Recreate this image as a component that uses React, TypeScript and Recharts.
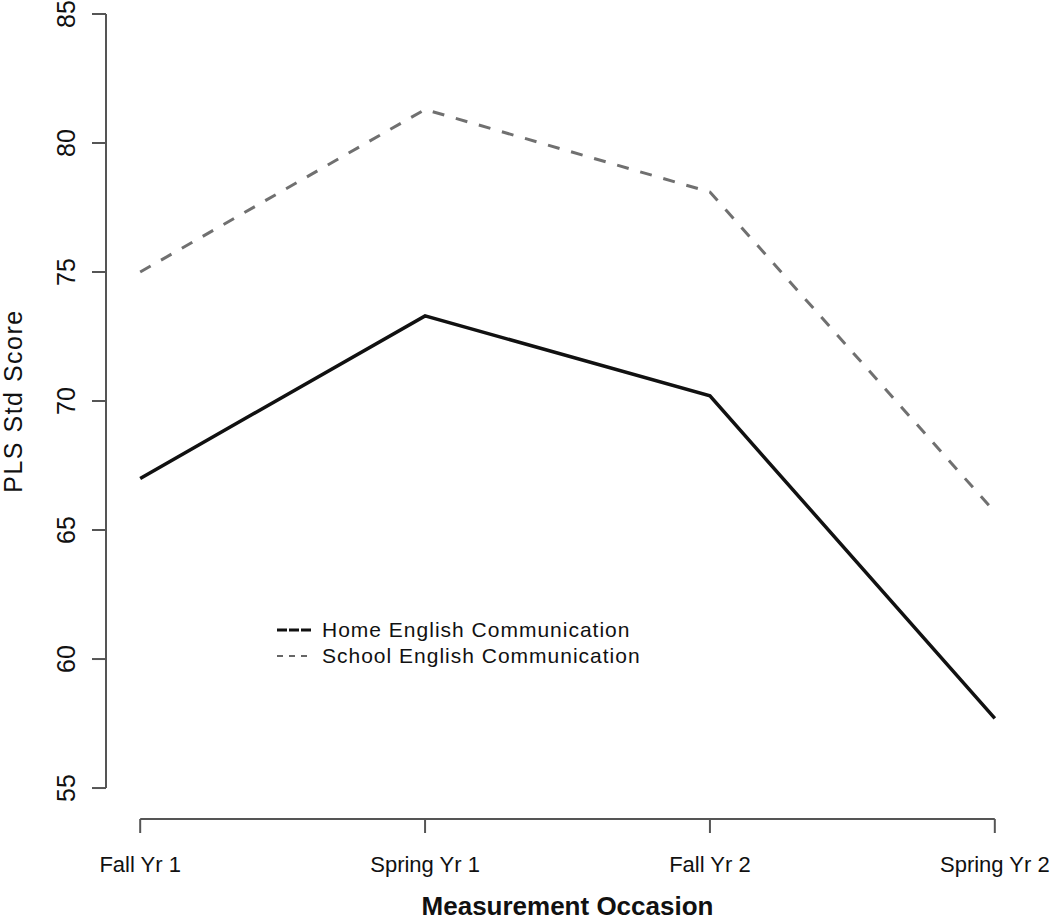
import React from 'react';
import { LineChart, Line, XAxis, YAxis, Legend, ReferenceLine } from 'recharts';

const occasions = ['Fall Yr 1', 'Spring Yr 1', 'Fall Yr 2', 'Spring Yr 2'];
const homeEnglish = [67.0, 73.3, 70.2, 57.7];
const schoolEnglish = [75.0, 81.3, 78.1, 65.7];
const yTicks = [55, 60, 65, 70, 75, 80, 85];
const xTicks = [0, 1, 2, 3];

const data = occasions.map((o, i) => ({
  idx: i,
  occasion: o,
  home: homeEnglish[i],
  school: schoolEnglish[i],
}));

const FONT = '"Liberation Sans", Arial, Helvetica, sans-serif';
const AXIS = '#555';
const TEXT = '#111';

// R pads the data range by 4% on each side
const X_DOMAIN: [number, number] = [-0.12, 3.12];
const Y_DOMAIN: [number, number] = [53.8, 85];

// legend samples look a bit different from the plotted lines
const LEGEND_SAMPLE: Record<string, { dash: string; width: number; color: string }> = {
  home: { dash: '10 2', width: 3, color: '#111' },
  school: { dash: '6 6', width: 2, color: '#666' },
};

const XTick = ({ x, y, payload }: any) => (
  <text x={x} y={y + 37} textAnchor="middle" fontSize={22} fill={TEXT} fontFamily={FONT}>
    {occasions[payload.value]}
  </text>
);

const YTick = ({ x, y, payload }: any) => (
  <text
    x={x - 15}
    y={y}
    transform={`rotate(-90, ${x - 15}, ${y})`}
    textAnchor="middle"
    fontSize={25}
    fill={TEXT}
    fontFamily={FONT}
  >
    {payload.value}
  </text>
);

const YTitle = () => (
  <text
    x={22}
    y={401}
    transform="rotate(-90, 22, 401)"
    textAnchor="middle"
    fontSize={25}
    letterSpacing={1.5}
    fill={TEXT}
    fontFamily={FONT}
  >
    PLS Std Score
  </text>
);

const XTitle = (props: any) => {
  const vb = props.viewBox || {};
  return (
    <text
      x={vb.x + vb.width / 2}
      y={vb.y + 96}
      textAnchor="middle"
      fontSize={26}
      fontWeight="bold"
      fill="#111"
      fontFamily={FONT}
    >
      Measurement Occasion
    </text>
  );
};

const LegendBox = ({ payload }: any) => (
  <div style={{ fontFamily: FONT, fontSize: 21, letterSpacing: 1, color: TEXT }}>
    {(payload || []).map((entry: any) => {
      const s = LEGEND_SAMPLE[entry.dataKey] || LEGEND_SAMPLE.home;
      return (
        <div key={entry.value} style={{ display: 'flex', alignItems: 'center', height: 26 }}>
          <svg width={34} height={10} style={{ marginRight: 11 }}>
            <line x1={0} y1={5} x2={34} y2={5} stroke={s.color} strokeWidth={s.width} strokeDasharray={s.dash} />
          </svg>
          <span>{entry.value}</span>
        </div>
      );
    })}
  </div>
);

export default function App() {
  return (
    <div style={{ position: 'absolute', left: 0, top: 0, width: 1050, height: 923, overflow: 'hidden', background: '#fff' }}>
      <LineChart width={1050} height={923} data={data} margin={{ top: 14, right: 21, bottom: 0, left: 0 }}>
        <XAxis
          dataKey="idx"
          type="number"
          domain={X_DOMAIN}
          ticks={xTicks}
          allowDataOverflow
          height={104}
          axisLine={false}
          tickLine={{ stroke: AXIS, strokeWidth: 2 }}
          tickSize={14}
          tick={<XTick />}
          label={{ content: XTitle }}
        />
        <YAxis
          type="number"
          domain={Y_DOMAIN}
          ticks={yTicks}
          allowDataOverflow
          width={106}
          axisLine={false}
          tickLine={{ stroke: AXIS, strokeWidth: 2 }}
          tickSize={14}
          tick={<YTick />}
          label={{ content: YTitle }}
        />
        <ReferenceLine
          segment={[{ x: 0, y: Y_DOMAIN[0] }, { x: 3, y: Y_DOMAIN[0] }]}
          stroke={AXIS}
          strokeWidth={2}
          ifOverflow="visible"
        />
        <ReferenceLine
          segment={[{ x: X_DOMAIN[0], y: 55 }, { x: X_DOMAIN[0], y: 85 }]}
          stroke={AXIS}
          strokeWidth={2}
          ifOverflow="visible"
        />
        <Line
          dataKey="home"
          name="Home English Communication"
          stroke="#111"
          strokeWidth={3.5}
          dot={false}
          activeDot={false}
          isAnimationActive={false}
        />
        <Line
          dataKey="school"
          name="School English Communication"
          stroke="#707070"
          strokeWidth={3}
          strokeDasharray="12 12"
          dot={false}
          activeDot={false}
          isAnimationActive={false}
        />
        <Legend
          layout="horizontal"
          verticalAlign="middle"
          content={<LegendBox />}
          wrapperStyle={{ position: 'absolute', left: 277, top: 617, width: 'auto', height: 'auto' }}
        />
      </LineChart>
    </div>
  );
}
